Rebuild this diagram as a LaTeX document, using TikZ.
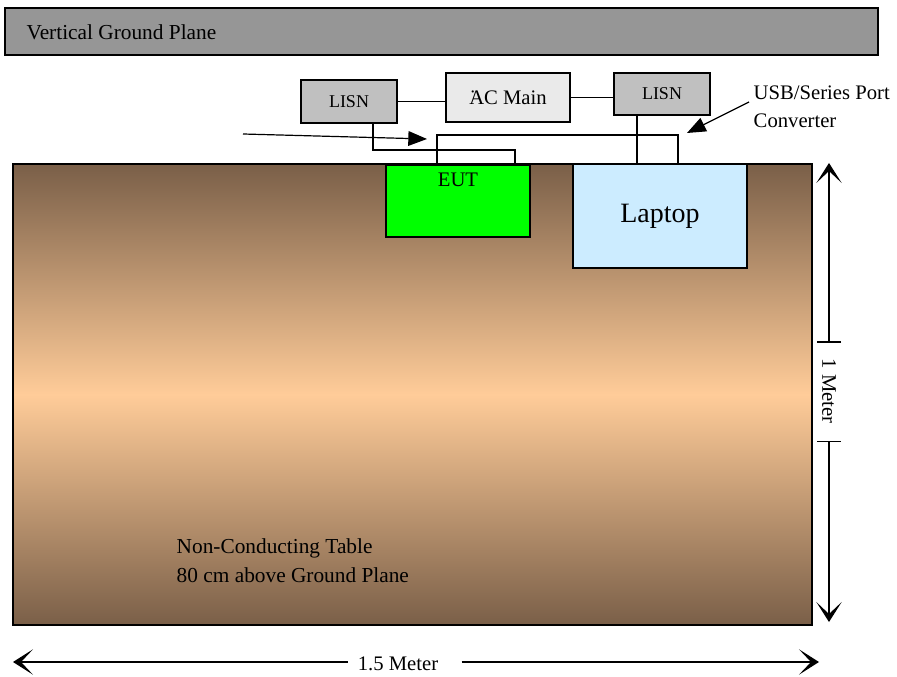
\documentclass[tikz,border=0pt]{standalone}
\usepackage{fontspec}
\setmainfont{Liberation Serif}
\usetikzlibrary{positioning, arrows.meta}

\definecolor{planegray}{HTML}{969696}
\definecolor{lisngray}{HTML}{C0C0C0}
\definecolor{maingray}{HTML}{EAEAEA}
\definecolor{eutgreen}{HTML}{00FF00}
\definecolor{laptopblue}{HTML}{CCECFF}
\definecolor{tablebrown}{HTML}{7A5F48}
\definecolor{tablepeach}{HTML}{FFCC99}

\begin{document}
\begin{tikzpicture}[
    x=0.75pt, y=-0.75pt,
    box/.style={rectangle, draw, line width=1.3pt, align=center, inner sep=0pt},
    wire/.style={line width=0.9pt},
    pointer/.style={-{Triangle[length=14pt, width=11pt]}, line width=0.9pt},
    dimline/.style={line width=0.8pt},
    dimtip/.tip={Stealth[length=15pt, width=19pt, inset=9pt]},
    txt/.style={font=\fontsize{15.5}{21}\selectfont}
]
\useasboundingbox (0,0) rectangle (897,677);

% Ground plane and table
\node[box, fill=planegray, minimum width=654.75pt, minimum height=35.25pt] (plane) at (441.5,31.5) {};
\node[txt, anchor=west, font=\fontsize{16}{19}\selectfont] (planetxt) at (22,32.5) {Vertical Ground Plane};
\node[box, line width=1.8pt, top color=tablebrown, bottom color=tablebrown, middle color=tablepeach,
      minimum width=599.25pt, minimum height=345.75pt] (table) at (412.5,394.5) {};
\node[txt, anchor=west, align=left, font=\fontsize{16}{22}\selectfont] (tabletxt) at (172,561)
    {Non-Conducting Table\\80 cm above Ground Plane};

% Equipment
\node[box, fill=eutgreen, minimum width=108pt, minimum height=54pt] (eut) at (458,201) {};
\node[txt, below=3pt of eut.north] (euttxt) {EUT};
\node[box, fill=laptopblue, minimum width=130.5pt, minimum height=78pt,
      font=\fontsize{21}{25}\selectfont] (laptop) at (660,216) {Laptop};

% Power
\node[box, fill=lisngray, minimum width=72pt, minimum height=32.25pt,
      font=\fontsize{13.5}{16}\selectfont] (lisnA) at (349,101.5) {LISN};
\node[box, fill=maingray, minimum width=93pt, minimum height=36.75pt, txt] (acmain) at (508,97.5) {\rlap{˙}AC Main};
\node[box, fill=lisngray, minimum width=72pt, minimum height=31.5pt,
      font=\fontsize{13.5}{16}\selectfont] (lisnB) at (662,94) {LISN};

\node[txt, anchor=west, align=left] (usb) at (749,107) {USB/Series Port\\Converter};
\coordinate (cablein) at (243,134);
\coordinate (cabletip) at (427,139);
\coordinate (porttip) at (687,133);

% Wires
\draw[wire] (lisnA.east) -- (lisnA.east -| acmain.west);
\draw[wire] (acmain.east) -- (acmain.east -| lisnB.west);
\draw[wire] (lisnA.south -| 373,0) |- (515,150) -- (eut.north -| 515,0);
\draw[wire] (eut.north -| 437,0) |- (678,135) -- (laptop.north -| 678,0);
\draw[wire] (lisnB.south -| 637,0) -- (laptop.north -| 637,0);

% Arrows
\draw[pointer] (cablein) -- (cabletip);
\draw[pointer] (usb.west) ++(0,-5) -- (porttip);

% Dimensions
\node[txt, rotate=-90, font=\fontsize{15.5}{18}\selectfont] (onem) at (829,391) {1 Meter};
\coordinate (vtop) at (829,163);
\coordinate (vbot) at (829,622);
\draw[dimline, {dimtip}-{Bar[width=18pt]}, shorten >=8.5pt] (vtop) -- (onem.west);
\draw[dimline, {Bar[width=18pt]}-{dimtip}, shorten <=9.5pt] (onem.east) -- (vbot);

\node[txt, font=\fontsize{15.5}{18}\selectfont] (onefive) at (398,664) {1.5 Meter};
\coordinate (hleft) at (13,662);
\coordinate (hright) at (819,662);
\draw[dimline, -{dimtip}, shorten <=4pt] (onefive.west |- hleft) -- (hleft);
\draw[dimline, line width=1.6pt, -{dimtip}, shorten <=14pt] (onefive.east |- hright) -- (hright);

\end{tikzpicture}
\end{document}
